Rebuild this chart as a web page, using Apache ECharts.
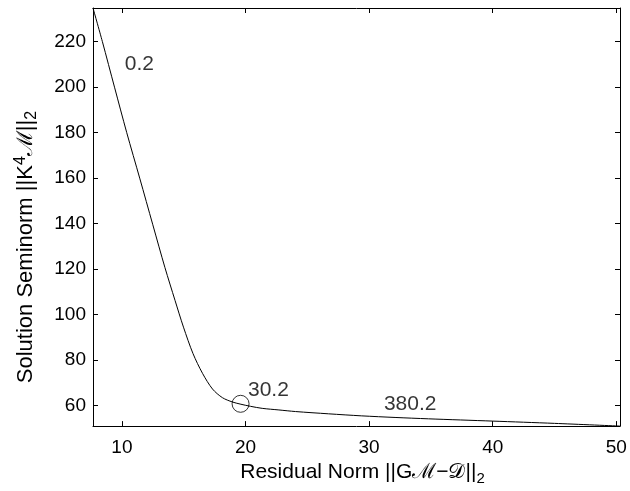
<!DOCTYPE html>
<html>
<head>
<meta charset="utf-8">
<script src="https://cdn.jsdelivr.net/npm/echarts@6/dist/echarts.min.js"></script>
<style>html,body{margin:0;padding:0;background:#fff;}#c{width:630px;height:491px;}</style>
</head>
<body>
<div id="c"></div>
<script>
// Data (L-curve)
const residualNorm = [7.66, 8.42, 9.40, 10.39, 11.44, 12.50, 13.48, 14.30, 14.98, 15.75, 16.52, 17.33, 18.13, 18.94, 19.56, 20.4, 21.35, 22.7, 24.04, 26.72, 29.4, 32.1, 34.8, 40.0, 45.0, 50.3];
const seminorm = [234.8, 220, 200, 180, 160, 139.5, 120.7, 106.2, 94.5, 82.9, 74.2, 67.3, 63.5, 61.6, 60.7, 59.7, 58.8, 58.1, 57.4, 56.4, 55.5, 54.8, 54.2, 53.2, 52.2, 51.0];
const cornerPoint = [19.6, 60.8];
const annotationText = ['0.2', '30.2', '380.2'];
const annotationX = [10.23, 20.2, 31.2];
const annotationY = [209.9, 66.7, 60.6];
const xTicks = [10, 20, 30, 40, 50];
const yTicks = [60, 80, 100, 120, 140, 160, 180, 200, 220];
const xRange = [7.66, 50.3];
const yRange = [51.0, 234.8];

const FONT = 'Liberation Sans, Arial, Helvetica, sans-serif';
const FS = 19;
const TFS = 21;
const chart = echarts.init(document.getElementById('c'));
const axisCommon = {
  axisLine: {show: true, lineStyle: {color: '#000', width: 1}},
  splitLine: {show: false}
};
chart.setOption({
  animation: false,
  backgroundColor: '#fff',
  grid: {left: 93, right: 10, top: 8, bottom: 61},
  xAxis: [{
    type: 'value', position: 'bottom', min: xRange[0], max: xRange[1],
    ...axisCommon,
    axisTick: {show: true, inside: true, length: 5, customValues: xTicks, lineStyle: {color: '#000'}},
    axisLabel: {show: true, customValues: xTicks, color: '#000', fontFamily: FONT, fontSize: FS, margin: 12},
    name: '{pad|}Residual Norm ||Gℳ−𝒟||{sub|2}', nameLocation: 'middle', nameGap: 24,
    nameTextStyle: {color: '#000', fontFamily: FONT, fontSize: TFS,
      rich: {
        pad: {width: 12},
        sub: {fontSize: 15, fontFamily: FONT, color: '#000', padding: [12, 0, 0, 0]}
      }}
  }, {
    type: 'value', position: 'top', min: xRange[0], max: xRange[1],
    ...axisCommon,
    axisTick: {show: true, inside: true, length: 5, customValues: xTicks, lineStyle: {color: '#000'}},
    axisLabel: {show: false}
  }],
  yAxis: [{
    type: 'value', position: 'left', min: yRange[0], max: yRange[1],
    ...axisCommon,
    axisTick: {show: true, inside: true, length: 5, customValues: yTicks, lineStyle: {color: '#000'}},
    axisLabel: {show: true, customValues: yTicks, color: '#000', fontFamily: FONT, fontSize: FS, margin: 7},
    name: 'Solution Seminorm ||K{sup|4}ℳ||{sub|2}{pad|}', nameLocation: 'middle', nameGap: 53, nameRotate: 90,
    nameTextStyle: {color: '#000', fontFamily: FONT, fontSize: 22,
      rich: {
        pad: {width: 60},
        sub: {fontSize: 16, fontFamily: FONT, color: '#000', padding: [12, 0, 0, 0]},
        sup: {fontSize: 16, fontFamily: FONT, color: '#000', padding: [0, 0, 10, 0]}
      }}
  }, {
    type: 'value', position: 'right', min: yRange[0], max: yRange[1],
    ...axisCommon,
    axisTick: {show: true, inside: true, length: 5, customValues: yTicks, lineStyle: {color: '#000'}},
    axisLabel: {show: false}
  }],
  series: [{
    type: 'line', xAxisIndex: 0, yAxisIndex: 0,
    data: residualNorm.map((x, i) => [x, seminorm[i]]),
    showSymbol: false, symbol: 'none', smooth: 0.3,
    lineStyle: {color: '#000', width: 1}, z: 2
  }, {
    type: 'scatter', xAxisIndex: 0, yAxisIndex: 0,
    data: [cornerPoint], symbol: 'circle', symbolSize: 17,
    itemStyle: {color: 'rgba(0,0,0,0)', borderColor: '#000', borderWidth: 1}, z: 3
  }, {
    type: 'scatter', xAxisIndex: 0, yAxisIndex: 0,
    data: annotationText.map((t, i) => ({value: [annotationX[i], annotationY[i]], name: t})),
    symbolSize: 0,
    label: {show: true, position: 'right', distance: 0, formatter: p => p.name,
      color: '#000', fontFamily: FONT, fontSize: TFS}, z: 4
  }]
});
</script>
</body>
</html>
